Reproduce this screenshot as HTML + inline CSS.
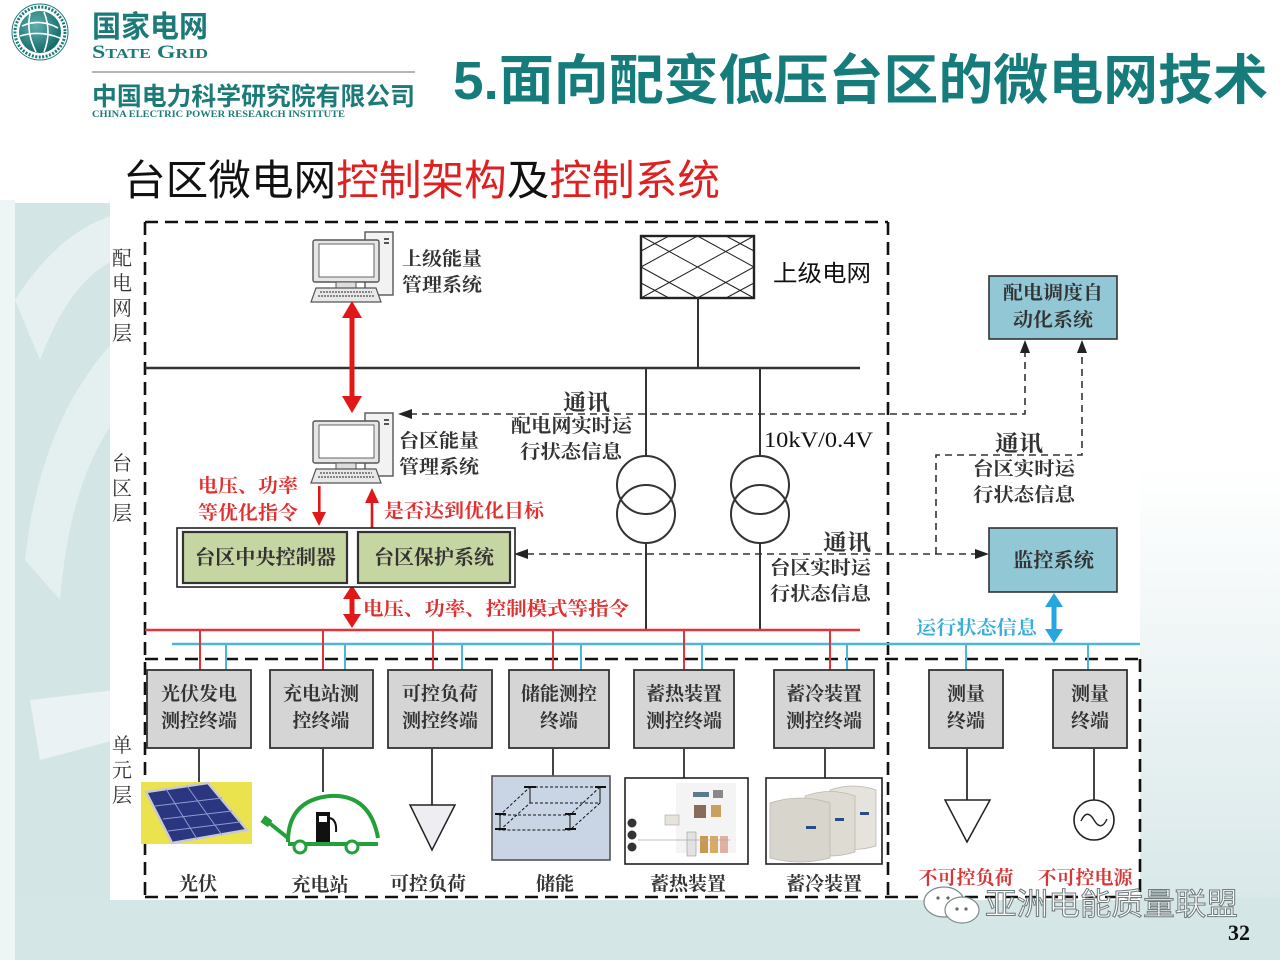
<!DOCTYPE html>
<html><head><meta charset="utf-8"><style>
html,body{margin:0;padding:0;background:#fff;}
svg{display:block;}
.cn{font-family:"Liberation Serif","Noto Serif CJK SC",serif;}
.sans{font-family:"Liberation Sans","Noto Sans CJK SC",sans-serif;}
</style></head><body>
<svg width="1280" height="960" viewBox="0 0 1280 960" xmlns="http://www.w3.org/2000/svg">
<defs>
<linearGradient id="rg" x1="0" y1="0" x2="0" y2="1">
<stop offset="0" stop-color="#ffffff"/><stop offset="0.35" stop-color="#ffffff"/><stop offset="1" stop-color="#d4e5e6"/>
</linearGradient>
<radialGradient id="globe" cx="0.4" cy="0.35" r="0.7">
<stop offset="0" stop-color="#5fb0ad"/><stop offset="1" stop-color="#0f6766"/>
</radialGradient>
</defs>

<!-- background -->
<rect x="0" y="0" width="1280" height="960" fill="#fff"/>
<rect x="15" y="203" width="100" height="757" fill="#d4e5e6"/>
<path d="M15 300 Q60 230 115 215 L115 260 Q70 280 40 360 Z" fill="#e6f0f1"/>
<path d="M25 560 Q40 420 115 340 L115 420 Q70 480 60 600 Z" fill="#e4eff0"/>
<path d="M30 700 L115 690 L115 740 L40 760 Z" fill="#eaf2f3"/>
<rect x="1140" y="200" width="140" height="760" fill="url(#rg)"/>
<rect x="15" y="898" width="1265" height="62" fill="#d5e6e7"/>
<rect x="0" y="200" width="15" height="760" fill="#eef5f5"/>

<!-- logo -->
<circle cx="40" cy="32" r="28" fill="#fff" stroke="#1b7b79" stroke-width="1"/>
<circle cx="40" cy="32" r="21" fill="url(#globe)"/>
<path d="M22 26 Q40 18 58 28 M20 36 Q40 30 60 38 M30 14 Q26 32 36 52 M44 12 Q52 32 44 52" stroke="#fff" stroke-width="1.6" fill="none"/>
<circle cx="40" cy="32" r="25" fill="none" stroke="#1b7b79" stroke-width="3" stroke-dasharray="2 1.5"/>
<text x="92" y="37" class="sans" font-size="30" font-weight="700" fill="#1c7b79" textLength="116" lengthAdjust="spacingAndGlyphs">国家电网</text>
<text x="92" y="58" font-family="Liberation Serif,serif" font-size="19" font-weight="700" fill="#1c7b79" textLength="116" lengthAdjust="spacingAndGlyphs">S<tspan font-size="14">TATE</tspan> G<tspan font-size="14">RID</tspan></text>
<line x1="92" y1="72" x2="415" y2="72" stroke="#8a8a8a" stroke-width="1.2"/>
<text x="92" y="105" class="sans" font-size="25" font-weight="700" fill="#1c7b79" textLength="323" lengthAdjust="spacingAndGlyphs">中国电力科学研究院有限公司</text>
<text x="92" y="117" font-family="Liberation Serif,serif" font-size="9" font-weight="700" fill="#1c7b79" textLength="253" lengthAdjust="spacingAndGlyphs">CHINA ELECTRIC POWER RESEARCH INSTITUTE</text>

<!-- title -->
<text x="453" y="99" class="sans" font-size="54" font-weight="700" fill="#167c7b" textLength="815" lengthAdjust="spacingAndGlyphs">5.面向配变低压台区的微电网技术</text>
<text x="123" y="195" class="sans" font-size="42" font-weight="400" fill="#111" textLength="597" lengthAdjust="spacingAndGlyphs">台区微电网<tspan fill="#e02020">控制架构</tspan>及<tspan fill="#e02020">控制系统</tspan></text>

<!-- diagram white area -->
<rect x="110" y="203" width="1030" height="697" fill="#fff"/>

<!-- dashed frames -->
<g stroke="#111" stroke-width="2.6" stroke-dasharray="13 7" fill="none">
<line x1="145" y1="222" x2="888" y2="222"/>
<line x1="145" y1="222" x2="145" y2="897"/>
<line x1="888" y1="222" x2="888" y2="897"/>
<line x1="145" y1="897" x2="1140" y2="897"/>
<line x1="145" y1="659" x2="1140" y2="659"/>
<line x1="1140" y1="659" x2="1140" y2="897"/>
</g>

<!-- layer labels -->
<g class="cn" font-size="20" fill="#333" text-anchor="middle">
<text x="122" y="265">配</text><text x="122" y="290">电</text><text x="122" y="315">网</text><text x="122" y="340">层</text>
<text x="122" y="470">台</text><text x="122" y="495">区</text><text x="122" y="520">层</text>
<text x="122" y="752">单</text><text x="122" y="777">元</text><text x="122" y="802">层</text>
</g>

<!-- bus line -->
<line x1="145" y1="368" x2="860" y2="368" stroke="#333" stroke-width="2.6"/>

<!-- upper grid box -->
<g stroke="#222" fill="none">
<rect x="641" y="236" width="113" height="62" stroke-width="2.4" fill="#fff"/>
<g stroke-width="1">
<line x1="641" y1="236" x2="754" y2="298"/>
<line x1="641" y1="298" x2="754" y2="236"/>
<polyline points="641,267 697.5,236 754,267 697.5,298 641,267"/>
<line x1="641" y1="251" x2="669" y2="236"/><line x1="641" y1="283" x2="669" y2="298"/>
<line x1="754" y1="251" x2="726" y2="236"/><line x1="754" y1="283" x2="726" y2="298"/>
</g>
</g>
<line x1="698" y1="298" x2="698" y2="368" stroke="#333" stroke-width="2"/>
<text x="773" y="281" class="sans" font-size="23" fill="#111" textLength="98" lengthAdjust="spacingAndGlyphs">上级电网</text>

<!-- transformers -->
<g stroke="#333" stroke-width="2" fill="none">
<line x1="646" y1="368" x2="646" y2="456"/><line x1="646" y1="543" x2="646" y2="630"/>
<line x1="760" y1="368" x2="760" y2="456"/><line x1="760" y1="543" x2="760" y2="630"/>
<circle cx="646" cy="485" r="29"/><circle cx="646" cy="514" r="29"/>
<circle cx="760" cy="485" r="29"/><circle cx="760" cy="514" r="29"/>
</g>
<text x="764" y="447" font-family="Liberation Serif,serif" font-size="22" fill="#111" textLength="109" lengthAdjust="spacingAndGlyphs">10kV/0.4V</text>

<!-- computers -->
<g id="pc1">
<rect x="365" y="232" width="28" height="63" fill="#f2f2f2" stroke="#555" stroke-width="1.4"/>
<rect x="384" y="238" width="5" height="2" fill="#555"/><rect x="384" y="242" width="5" height="2" fill="#555"/>
<rect x="313" y="240" width="66" height="42" rx="2" fill="#e6e6e6" stroke="#555" stroke-width="1.4"/>
<rect x="319" y="244" width="55" height="33" fill="#fff" stroke="#666" stroke-width="1"/>
<rect x="336" y="282" width="20" height="6" fill="#ddd" stroke="#555" stroke-width="1"/>
<polygon points="316,288 376,288 381,302 311,302" fill="#e8e8e8" stroke="#555" stroke-width="1.2"/>
<line x1="320" y1="292" x2="372" y2="292" stroke="#666" stroke-width="1.5" stroke-dasharray="2 1"/>
<line x1="318" y1="296" x2="374" y2="296" stroke="#666" stroke-width="1.5" stroke-dasharray="2 1"/>
</g>
<use href="#pc1" transform="translate(0,181)"/>

<g class="cn" font-size="19" font-weight="700" fill="#333">
<text x="402" y="265" textLength="80" lengthAdjust="spacingAndGlyphs">上级能量</text>
<text x="402" y="291" textLength="80" lengthAdjust="spacingAndGlyphs">管理系统</text>
<text x="399" y="447" textLength="80" lengthAdjust="spacingAndGlyphs">台区能量</text>
<text x="399" y="473" textLength="80" lengthAdjust="spacingAndGlyphs">管理系统</text>
</g>

<!-- red arrows -->
<g fill="#e01818">
<rect x="349.5" y="316" width="5" height="82"/>
<polygon points="342,318 362,318 352,301"/><polygon points="342,396 362,396 352,413"/>
<rect x="349.5" y="597" width="5" height="19"/>
<polygon points="343,599 361,599 352,585"/><polygon points="343,614 361,614 352,628"/>
<rect x="318" y="486" width="2.6" height="28"/><polygon points="312,512 326,512 319,526"/>
<rect x="370.7" y="500" width="2.6" height="28"/><polygon points="365,503 379,503 372,488"/>
</g>
<g class="cn" font-size="19" font-weight="700" fill="#e03030">
<text x="198" y="492" textLength="100" lengthAdjust="spacingAndGlyphs">电压、功率</text>
<text x="198" y="519" textLength="100" lengthAdjust="spacingAndGlyphs">等优化指令</text>
<text x="384" y="517" textLength="160" lengthAdjust="spacingAndGlyphs">是否达到优化目标</text>
<text x="363" y="615" textLength="266" lengthAdjust="spacingAndGlyphs">电压、功率、控制模式等指令</text>
</g>

<!-- controller box -->
<rect x="177" y="528" width="338" height="59" fill="#fff" stroke="#222" stroke-width="1.6"/>
<rect x="183" y="532" width="164" height="51" fill="#c6d6a2" stroke="#333" stroke-width="2.2"/>
<rect x="358" y="532" width="152" height="51" fill="#c6d6a2" stroke="#333" stroke-width="2.2"/>
<text x="195" y="564" class="cn" font-size="20" font-weight="700" fill="#333" textLength="141" lengthAdjust="spacingAndGlyphs">台区中央控制器</text>
<text x="374" y="564" class="cn" font-size="20" font-weight="700" fill="#333" textLength="120" lengthAdjust="spacingAndGlyphs">台区保护系统</text>

<!-- comm dashed lines -->
<g stroke="#333" stroke-width="1.6" stroke-dasharray="7 5" fill="none">
<polyline points="1025,350 1025,414 410,414"/>
<line x1="527" y1="554" x2="978" y2="554"/>
<polyline points="936,554 936,455 1082,455 1082,350"/>
</g>
<g fill="#222">
<polygon points="398,414 412,409 412,419"/>
<polygon points="1025,340 1020,353 1030,353"/>
<polygon points="1082,340 1077,353 1087,353"/>
<polygon points="514,554 528,549 528,559"/>
<polygon points="989,554 975,549 975,559"/>
</g>
<g class="cn" font-weight="700" fill="#333">
<text x="563" y="410" font-size="22" textLength="47" lengthAdjust="spacingAndGlyphs">通讯</text>
<text x="511" y="432" font-size="19" textLength="121" lengthAdjust="spacingAndGlyphs">配电网实时运</text>
<text x="520" y="458" font-size="19" textLength="102" lengthAdjust="spacingAndGlyphs">行状态信息</text>
<text x="823" y="550" font-size="22" textLength="48" lengthAdjust="spacingAndGlyphs">通讯</text>
<text x="770" y="574" font-size="19" textLength="101" lengthAdjust="spacingAndGlyphs">台区实时运</text>
<text x="770" y="600" font-size="19" textLength="101" lengthAdjust="spacingAndGlyphs">行状态信息</text>
<text x="995" y="451" font-size="22" textLength="48" lengthAdjust="spacingAndGlyphs">通讯</text>
<text x="973" y="475" font-size="19" textLength="102" lengthAdjust="spacingAndGlyphs">台区实时运</text>
<text x="973" y="501" font-size="19" textLength="102" lengthAdjust="spacingAndGlyphs">行状态信息</text>
</g>

<!-- blue boxes -->
<rect x="989" y="276" width="128" height="63" fill="#92c7d5" stroke="#333" stroke-width="1.6"/>
<text x="1003" y="299" class="cn" font-size="19" font-weight="700" fill="#333" textLength="100" lengthAdjust="spacingAndGlyphs">配电调度自</text>
<text x="1013" y="326" class="cn" font-size="19" font-weight="700" fill="#333" textLength="80" lengthAdjust="spacingAndGlyphs">动化系统</text>
<rect x="989" y="528" width="128" height="64" fill="#92c7d5" stroke="#333" stroke-width="1.6"/>
<text x="1013" y="567" class="cn" font-size="20" font-weight="700" fill="#333" textLength="81" lengthAdjust="spacingAndGlyphs">监控系统</text>

<!-- blue double arrow -->
<g fill="#25a6e0">
<rect x="1051.5" y="604" width="5" height="28"/>
<polygon points="1045,607 1063,607 1054,593"/><polygon points="1045,629 1063,629 1054,643"/>
</g>
<text x="916" y="634" class="cn" font-size="19" font-weight="700" fill="#3aaed8" textLength="121" lengthAdjust="spacingAndGlyphs">运行状态信息</text>

<!-- buses -->
<line x1="145" y1="630" x2="860" y2="630" stroke="#e0333a" stroke-width="2.6"/>
<line x1="172" y1="644" x2="1140" y2="644" stroke="#4bb7d6" stroke-width="2.6"/>
<g stroke="#e0333a" stroke-width="2">
<line x1="200" y1="630" x2="200" y2="670"/><line x1="323" y1="630" x2="323" y2="670"/>
<line x1="433" y1="630" x2="433" y2="670"/><line x1="553" y1="630" x2="553" y2="670"/>
<line x1="684" y1="630" x2="684" y2="670"/><line x1="830" y1="630" x2="830" y2="670"/>
</g>
<g stroke="#4bb7d6" stroke-width="2">
<line x1="226" y1="644" x2="226" y2="670"/><line x1="345" y1="644" x2="345" y2="670"/>
<line x1="462" y1="644" x2="462" y2="670"/><line x1="581" y1="644" x2="581" y2="670"/>
<line x1="702" y1="644" x2="702" y2="670"/><line x1="847" y1="644" x2="847" y2="670"/>
<line x1="966" y1="644" x2="966" y2="670"/><line x1="1088" y1="644" x2="1088" y2="670"/>
</g>

<!-- terminal boxes -->
<g fill="#d5d5d5" stroke="#333" stroke-width="1.8">
<rect x="147" y="670" width="104" height="78"/>
<rect x="270" y="670" width="103" height="78"/>
<rect x="388" y="670" width="104" height="78"/>
<rect x="509" y="670" width="100" height="78"/>
<rect x="634" y="670" width="100" height="78"/>
<rect x="774" y="670" width="100" height="78"/>
<rect x="929" y="670" width="74" height="78"/>
<rect x="1053" y="670" width="74" height="78"/>
</g>
<g class="cn" font-size="19" font-weight="700" fill="#333" text-anchor="middle">
<text x="199" y="700">光伏发电</text><text x="199" y="727">测控终端</text>
<text x="321" y="700">充电站测</text><text x="321" y="727">控终端</text>
<text x="440" y="700">可控负荷</text><text x="440" y="727">测控终端</text>
<text x="559" y="700">储能测控</text><text x="559" y="727">终端</text>
<text x="684" y="700">蓄热装置</text><text x="684" y="727">测控终端</text>
<text x="824" y="700">蓄冷装置</text><text x="824" y="727">测控终端</text>
<text x="966" y="700">测量</text><text x="966" y="727">终端</text>
<text x="1090" y="700">测量</text><text x="1090" y="727">终端</text>
</g>

<!-- stems -->
<g stroke="#444" stroke-width="2">
<line x1="199" y1="748" x2="199" y2="782"/>
<line x1="323" y1="748" x2="323" y2="792"/>
<line x1="432" y1="748" x2="432" y2="805"/>
<line x1="553" y1="748" x2="553" y2="776"/>
<line x1="684" y1="748" x2="684" y2="778"/>
<line x1="825" y1="748" x2="825" y2="778"/>
<line x1="967" y1="748" x2="967" y2="800"/>
<line x1="1094" y1="748" x2="1094" y2="800"/>
</g>

<!-- solar -->
<rect x="141" y="782" width="111" height="62" fill="#ebe34e"/>
<polygon points="146,792 208,783 247,830 172,843" fill="#2b3680" stroke="#c9c9d2" stroke-width="2.5"/>
<g stroke="#8f9ad0" stroke-width="1">
<line x1="166" y1="789" x2="197" y2="839"/><line x1="187" y1="786" x2="222" y2="835"/>
<line x1="155" y1="806" x2="222" y2="798"/><line x1="163" y1="819" x2="232" y2="811"/><line x1="168" y1="831" x2="240" y2="822"/>
</g>

<!-- charging station -->
<g fill="none" stroke="#23a03a" stroke-width="4">
<path d="M288 842 Q288 800 330 796 Q370 794 378 838"/>
<line x1="288" y1="844" x2="378" y2="844"/>
<line x1="268" y1="822" x2="288" y2="838"/>
</g>
<rect x="262" y="817" width="9" height="8" fill="#23a03a" transform="rotate(35 266 821)"/>
<circle cx="300" cy="847" r="6" fill="#fff" stroke="#23a03a" stroke-width="3"/>
<circle cx="352" cy="847" r="6" fill="#fff" stroke="#23a03a" stroke-width="3"/>
<rect x="316" y="812" width="14" height="30" fill="#111"/>
<rect x="319" y="816" width="8" height="6" fill="#fff"/>
<path d="M330 818 Q337 820 336 832" stroke="#111" stroke-width="2" fill="none"/>

<!-- controllable load triangle -->
<polygon points="410,805 455,805 432,850" fill="#eeeef2" stroke="#222" stroke-width="1.5"/>

<!-- storage -->
<rect x="492" y="776" width="118" height="84" fill="#c9d5e5" stroke="#555" stroke-width="1.6"/>
<g stroke="#111" stroke-width="1" fill="none">
<polygon points="530,787 600,787 570,815 500,815" stroke-dasharray="3 2"/>
<polygon points="530,803 600,803 570,830 500,830" stroke-dasharray="3 2"/>
<line x1="500" y1="815" x2="500" y2="830"/><line x1="570" y1="815" x2="570" y2="830"/>
<line x1="600" y1="787" x2="600" y2="803"/><line x1="530" y1="787" x2="530" y2="803"/>
<line x1="495" y1="814" x2="506" y2="814" stroke-width="2"/><line x1="565" y1="814" x2="576" y2="814" stroke-width="2"/>
<line x1="495" y1="829" x2="506" y2="829" stroke-width="2"/><line x1="565" y1="829" x2="576" y2="829" stroke-width="2"/>
<line x1="595" y1="787" x2="606" y2="787" stroke-width="2"/><line x1="524" y1="787" x2="536" y2="787" stroke-width="2"/>
</g>

<!-- heat storage picture -->
<rect x="625" y="778" width="123" height="86" fill="#fff" stroke="#222" stroke-width="1.6"/>
<g>
<rect x="676" y="783" width="60" height="70" fill="#f4f4f4"/>
<rect x="693" y="792" width="16" height="5" fill="#5d7a8a"/><rect x="713" y="790" width="10" height="8" fill="#888"/>
<rect x="694" y="805" width="12" height="13" fill="#8a6a5a"/><rect x="711" y="805" width="10" height="12" fill="#c8a060"/>
<rect x="665" y="815" width="14" height="10" fill="#e6e2dc" stroke="#aaa" stroke-width="0.6"/>
<circle cx="632" cy="823" r="4.5" fill="#333"/><circle cx="632" cy="835" r="4.5" fill="#333"/><circle cx="632" cy="847" r="4.5" fill="#333"/>
<rect x="687" y="832" width="9" height="24" fill="#e2e2e2" stroke="#999" stroke-width="0.6"/>
<rect x="700" y="836" width="8" height="17" fill="#c89a50"/><rect x="710" y="836" width="8" height="17" fill="#d9a968"/>
<rect x="720" y="836" width="8" height="17" fill="#e0b0a0"/>
<line x1="638" y1="840" x2="730" y2="840" stroke="#aaa" stroke-width="0.8"/>
</g>

<!-- cold storage picture -->
<rect x="766" y="778" width="116" height="86" fill="#fff" stroke="#222" stroke-width="1.6"/>
<g stroke="#bcb8ae" stroke-width="0.8">
<path d="M830 790 Q853 782 876 790 L876 846 Q853 853 830 846 Z" fill="#e6e3dc"/>
<path d="M805 796 Q830 787 855 796 L855 852 Q830 860 805 852 Z" fill="#dedbd3"/>
<path d="M770 803 Q800 793 830 803 L830 858 Q800 866 770 858 Z" fill="#d8d5cd"/>
</g>
<rect x="806" y="826" width="10" height="3" fill="#2a4a8a"/><rect x="835" y="818" width="9" height="3" fill="#2a4a8a"/><rect x="860" y="812" width="9" height="3" fill="#2a4a8a"/>

<!-- uncontrollable load triangle -->
<polygon points="945,800 990,800 967,842" fill="#fff" stroke="#222" stroke-width="1.5"/>
<!-- AC source -->
<circle cx="1094" cy="820" r="20" fill="#fff" stroke="#222" stroke-width="1.6"/>
<path d="M1081 821 Q1087 808 1094 820 Q1101 832 1107 819" fill="none" stroke="#222" stroke-width="1.4"/>

<!-- bottom labels -->
<g class="cn" font-size="19" font-weight="700" fill="#333" text-anchor="middle">
<text x="198" y="890">光伏</text>
<text x="320" y="891">充电站</text>
<text x="428" y="890">可控负荷</text>
<text x="555" y="890">储能</text>
<text x="688" y="890">蓄热装置</text>
<text x="824" y="890">蓄冷装置</text>
</g>
<g class="cn" font-size="19" font-weight="700" fill="#d63838" text-anchor="middle">
<text x="966" y="884">不可控负荷</text>
<text x="1085" y="884">不可控电源</text>
</g>

<!-- watermark -->
<g fill="#fff" stroke="#7c8a8c" stroke-width="1.2">
<ellipse cx="944" cy="902" rx="20" ry="15"/>
<ellipse cx="962" cy="910" rx="17" ry="13"/>
</g>
<circle cx="957" cy="909" r="1.6" fill="#666"/><circle cx="966" cy="909" r="1.6" fill="#666"/>
<circle cx="938" cy="898" r="1.6" fill="#666"/><circle cx="948" cy="898" r="1.6" fill="#666"/>
<text x="985" y="915" class="sans" font-size="31" fill="#fff" stroke="#6f7b7d" stroke-width="1" textLength="253" lengthAdjust="spacingAndGlyphs">亚洲电能质量联盟</text>
<text x="1228" y="940" font-family="Liberation Serif,serif" font-size="22" font-weight="700" fill="#111">32</text>
</svg>
</body></html>
